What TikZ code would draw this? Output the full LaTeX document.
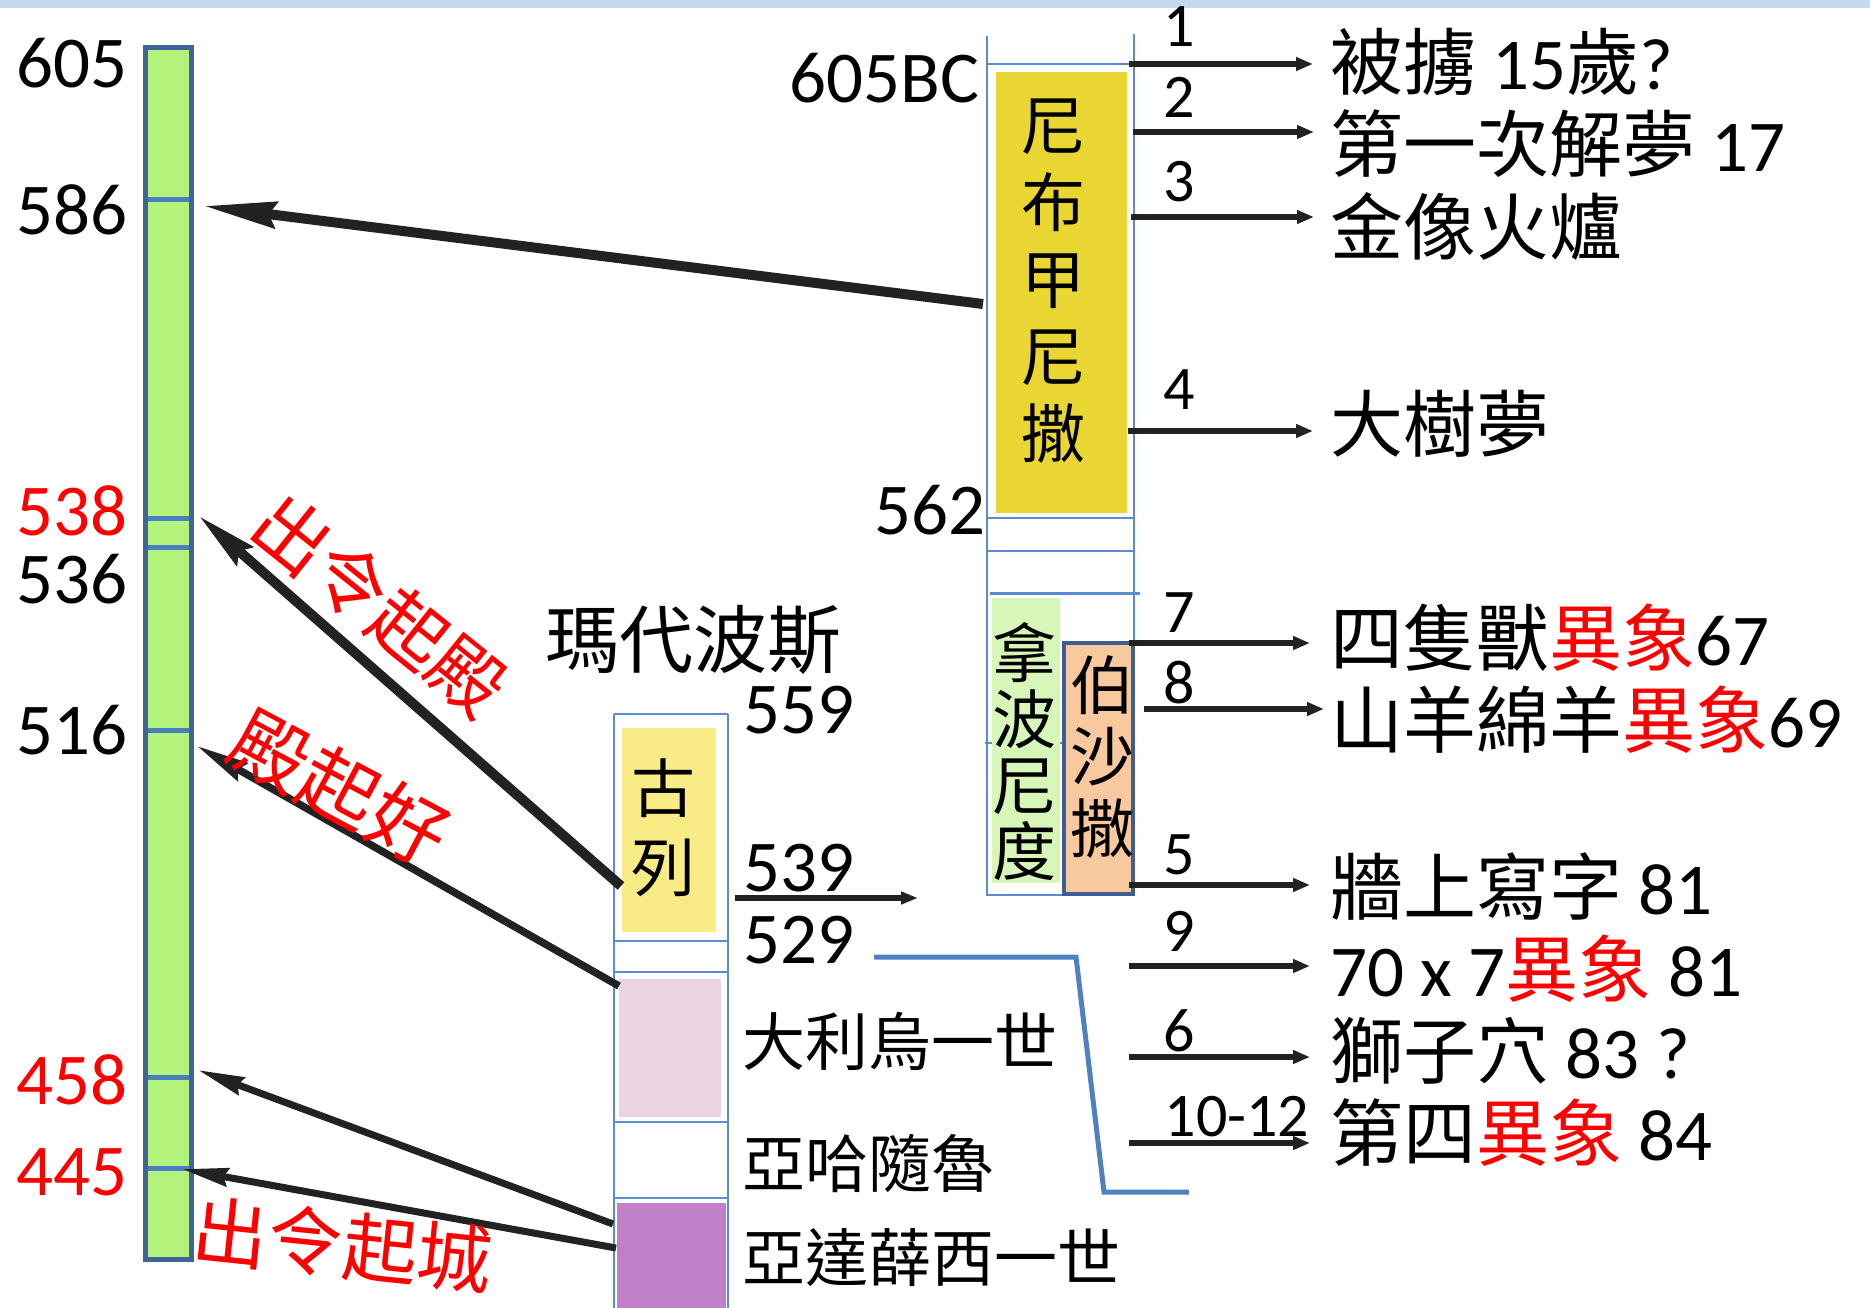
\documentclass[tikz,border=0pt]{standalone}
\usepackage{fontspec}
\setmainfont{Carlito}
\newfontfamily\cjk{Noto Sans CJK TC}
\usetikzlibrary{arrows.meta}
\newcommand{\myzh}[1]{{\cjk #1}}
\definecolor{band}{HTML}{C6D9F1}
\definecolor{barfill}{HTML}{B3F27B}
\definecolor{barline}{HTML}{3F6596}
\definecolor{tickc}{HTML}{4A7EC0}
\definecolor{thinc}{HTML}{5B8BD0}
\definecolor{nebu}{HTML}{EAD632}
\definecolor{nabo}{HTML}{D7F7B8}
\definecolor{bels}{HTML}{F8C89E}
\definecolor{belsline}{HTML}{3D5E8E}
\definecolor{cyrus}{HTML}{F9EC86}
\definecolor{dar}{HTML}{EBD4E2}
\definecolor{artax}{HTML}{BF80C8}
\definecolor{polyc}{HTML}{4F81BD}
\definecolor{arrc}{HTML}{222222}
\definecolor{hl}{HTML}{FF0000}
\begin{document}
\begin{tikzpicture}[x=1pt,y=-1pt,
  every node/.style={inner sep=0pt, outer sep=0pt},
  numlbl/.style={font=\fontsize{73}{80}\selectfont},
  rednum/.style={numlbl, text=hl},
  idxlbl/.style={font=\fontsize{62}{70}\selectfont},
  itemlbl/.style={font=\fontsize{73}{80}\selectfont, anchor=west},
  midlbl/.style={font=\fontsize{63}{70}\selectfont\cjk, anchor=west},
  vertlbl/.style={font=\fontsize{64}{77}\selectfont\cjk, align=center},
  taglbl/.style={font=\fontsize{75}{80}\selectfont\cjk, text=hl},
  thinline/.style={draw=thinc, line width=2pt},
  fillbox/.style={anchor=north west, draw=none},
  bigarrow/.style={draw=arrc, line width=#1},
  smallarrow/.style={draw=arrc, line width=6pt, -{Triangle[length=17pt,width=13pt]}},
]
\useasboundingbox (0,0) rectangle (1870,1308);
\fill[band] (0,0) rectangle (1870,8.5);

% green timeline bar
\node[fillbox, fill=barfill, draw=barline, line width=5pt, minimum width=46pt, minimum height=1211pt] (bar) at (145,48) {};
\foreach \yy in {200,518,547,730,1077,1168}
  \draw[tickc, line width=5pt] (147.5,\yy) -- (188.5,\yy);

% left year labels
\node[numlbl, anchor=east] (y605) at (127,63) {605};
\node[numlbl, anchor=east] (y586) at (127,210) {586};
\node[rednum, anchor=east] (y538) at (127,511) {538};
\node[numlbl, anchor=east] (y536) at (127,579) {536};
\node[numlbl, anchor=east] (y516) at (127,730) {516};
\node[rednum, anchor=east] (y458) at (127,1080) {458};
\node[rednum, anchor=east] (y445) at (127,1172) {445};

% Babylon column frame
\draw[thinline] (987,36) -- (987,895) -- (1063,895);
\draw[thinline] (1134,34) -- (1134,895);
\draw[thinline] (987,64) -- (1134,64);
\draw[thinline, line width=2.5pt] (987,518) -- (1134,518);
\draw[thinline, line width=2.5pt] (987,551) -- (1134,551);
\draw[thinline, line width=3pt] (990,593) -- (1140,593);
\draw[thinline] (985,743) -- (1063,743);

\node[fillbox, fill=nebu, minimum width=131pt, minimum height=441pt] (nebbox) at (996,72) {};
\node[vertlbl] (nebtxt) at (1053,281) {尼\\布\\甲\\尼\\撒};
\node[fillbox, fill=nabo, minimum width=68pt, minimum height=285pt] (nabbox) at (992,598) {};
\node[vertlbl, font=\fontsize{64}{66}\selectfont\cjk] (nabtxt) at (1024,752) {拿\\波\\尼\\度};
\node[fillbox, fill=bels, draw=belsline, line width=4.5pt, minimum width=69pt, minimum height=251pt] (belbox) at (1064,643) {};
\node[vertlbl, font=\fontsize{64}{71.5}\selectfont\cjk] (beltxt) at (1102,757) {伯\\沙\\撒};

\node[numlbl, anchor=east] (bc605) at (979,78) {605BC};
\node[numlbl, anchor=east] (y562) at (985,510) {562};

% right arrows and labels
\node[idxlbl] (n1) at (1179,27) {1};
\node[idxlbl] (n2) at (1179,97) {2};
\node[idxlbl] (n3) at (1179,182) {3};
\node[idxlbl] (n4) at (1179,390) {4};
\node[idxlbl] (n7) at (1179,613) {7};
\node[idxlbl] (n8) at (1179,683) {8};
\node[idxlbl] (n5) at (1179,855) {5};
\node[idxlbl] (n9) at (1179,931) {9};
\node[idxlbl] (n6) at (1179,1031) {6};
\node[idxlbl] (n10) at (1237,1117) {10-12};

\node[itemlbl] (t1) at (1330,62) {\myzh{被擄} 15\myzh{歲}?};
\node[itemlbl] (t2) at (1330,144) {\myzh{第一次解夢} 17};
\node[itemlbl] (t3) at (1330,226) {\myzh{金像火爐}};
\node[itemlbl] (t4) at (1330,424) {\myzh{大樹夢}};
\node[itemlbl] (t7) at (1330,638) {\myzh{四隻獸}\textcolor{hl}{\myzh{異象}}67};
\node[itemlbl] (t8) at (1330,720) {\myzh{山羊綿羊}\textcolor{hl}{\myzh{異象}}69};
\node[itemlbl] (t5) at (1330,886) {\myzh{牆上寫字} 81};
\node[itemlbl] (t9) at (1330,969) {70 x 7\textcolor{hl}{\myzh{異象}} 81};
\node[itemlbl] (t6) at (1330,1051) {\myzh{獅子穴} 83 ?};
\node[itemlbl] (t10) at (1330,1133) {\myzh{第四}\textcolor{hl}{\myzh{異象}} 84};

\foreach \nm/\xs/\yy/\xe in {r1/1129/64/1313, r2/1133/132/1314, r3/1131/217/1314, r4/1128/431/1313, r7/1129/643/1310, r8/1144/709/1324, r5/1129/885/1310, r9/1129/966/1310, r6/1129/1057/1310, r10/1129/1143/1310}{
  \coordinate (\nm s) at (\xs,\yy);
  \coordinate (\nm e) at (\xe,\yy);
  \draw[smallarrow] (\nm s) -- (\nm e);
}

% Persia column
\node[midlbl, font=\fontsize{74}{80}\selectfont\cjk] (persia) at (545,640) {瑪代波斯};
\draw[thinline] (614,714) -- (614,1308);
\draw[thinline] (728,714) -- (728,1308);
\foreach \yy in {714,941,972,1122,1198}
  \draw[thinline] (614,\yy) -- (728,\yy);
\node[fillbox, fill=cyrus, minimum width=94pt, minimum height=204pt] (cyrbox) at (622,728) {};
\node[vertlbl, font=\fontsize{64}{79}\selectfont\cjk] (cyrtxt) at (663,828) {古\\列};
\node[fillbox, fill=dar, minimum width=102pt, minimum height=138pt] (darbox) at (619,979) {};
\node[fillbox, fill=artax, minimum width=109pt, minimum height=106pt] (artbox) at (617,1203) {};

\node[numlbl, anchor=west] (y559) at (743,710) {559};
\node[numlbl, anchor=west] (y539) at (743,868) {539};
\node[numlbl, anchor=west] (y529) at (743,940) {529};
\node[midlbl] (darius) at (742,1041) {大利烏一世};
\node[midlbl] (ahas) at (742,1164) {亞哈隨魯};
\node[midlbl] (artx) at (742,1258) {亞達薛西一世};

\coordinate (p539s) at (735,898);
\coordinate (p539e) at (918,898);
\draw[draw=arrc, line width=5.5pt, -{Triangle[length=17pt,width=12pt]}] (p539s) -- (p539e);

% blue bracket line
\coordinate (b1) at (874,957);
\coordinate (b2) at (1076,957);
\coordinate (b3) at (1104,1192);
\coordinate (b4) at (1189,1192);
\draw[polyc, line width=5pt] (b1) -- (b2) -- (b3) -- (b4);

% big arrows to the timeline
\coordinate (A1s) at (983,304); \coordinate (A1e) at (204,206);
\coordinate (A2s) at (621,886); \coordinate (A2e) at (199,516);
\coordinate (A3s) at (619,986); \coordinate (A3e) at (197,746);
\coordinate (A4s) at (613,1224); \coordinate (A4e) at (198,1070);
\coordinate (A5s) at (616,1248); \coordinate (A5e) at (182,1169);
\draw[bigarrow=10pt, -{Stealth[length=72pt,width=26pt,inset=7pt]}] (A1s) -- (A1e);
\draw[bigarrow=10pt, -{Stealth[length=60pt,width=24pt,inset=7pt]}] (A2s) -- (A2e);
\draw[bigarrow=7.5pt, -{Stealth[length=52pt,width=20pt,inset=5pt]}] (A3s) -- (A3e);
\draw[bigarrow=7pt, -{Stealth[length=46pt,width=18pt,inset=4pt]}] (A4s) -- (A4e);
\draw[bigarrow=7pt, -{Stealth[length=46pt,width=18pt,inset=4pt]}] (A5s) -- (A5e);

% red rotated tags
\node[taglbl, rotate=-38.7] (tag1) at (380,605) {出令起殿};
\node[taglbl, rotate=-28, font=\fontsize{78}{80}\selectfont\cjk] (tag2) at (340,788) {殿起好};
\node[taglbl, rotate=-6] (tag3) at (343,1245) {出令起城};
\end{tikzpicture}
\end{document}
